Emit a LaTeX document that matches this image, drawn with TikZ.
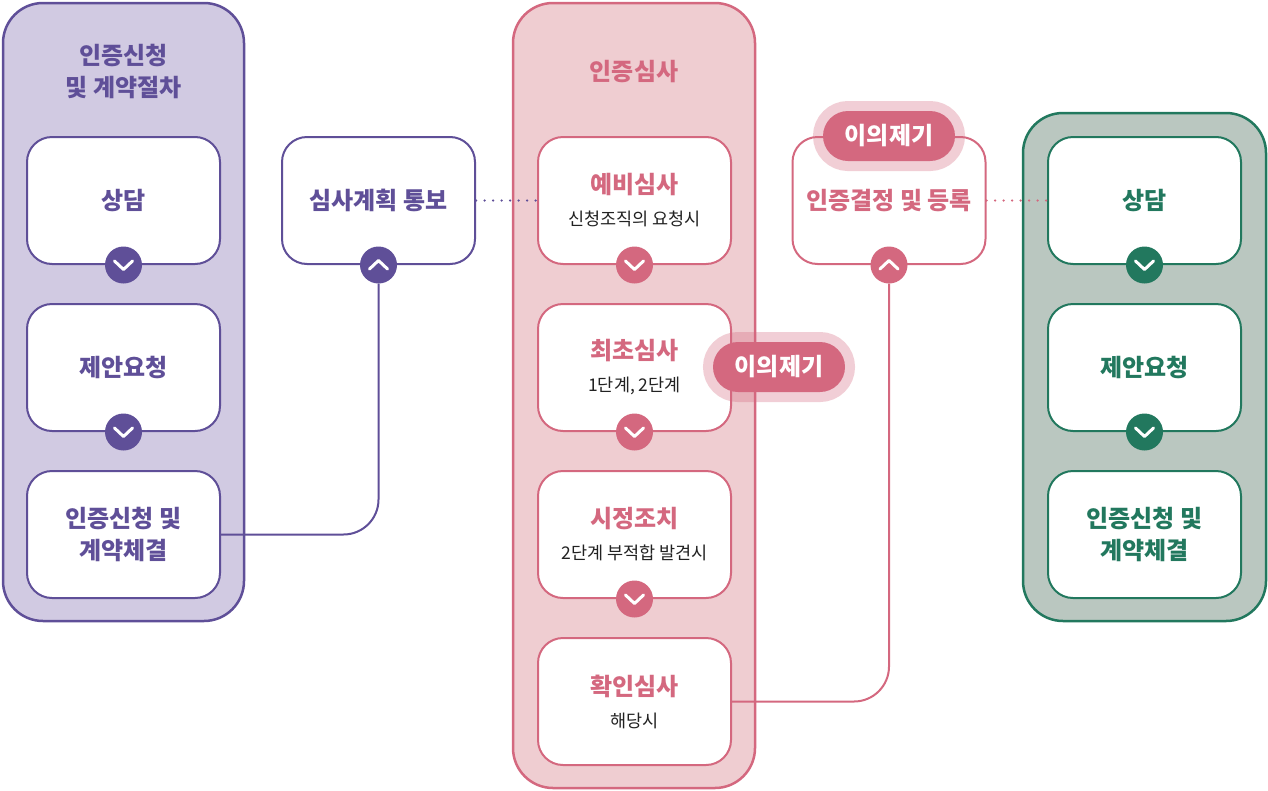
\documentclass[tikz,border=0pt]{standalone}
\usepackage{fontspec}
\setmainfont{Noto Sans CJK KR}
\usetikzlibrary{positioning}
\definecolor{purp}{HTML}{5F4F98}
\definecolor{purpbg}{HTML}{D1CAE2}
\definecolor{rosec}{HTML}{D4687F}
\definecolor{rosebg}{HTML}{EFCDD1}
\definecolor{grn}{HTML}{22785E}
\definecolor{grnbg}{HTML}{BAC7C0}
\definecolor{ink}{HTML}{222222}
\newcommand{\subt}[1]{{\mdseries\fontsize{17.5}{20}\selectfont\color{ink}#1}}
\begin{document}
\begin{tikzpicture}[x=1pt, y=-1pt,
    panel/.style={draw=#1, line width=2.5pt, rounded corners=40pt},
    ptitle/.style={text=#1, align=center, font=\bfseries\fontsize{24}{32}\selectfont},
    stepbox/.style={draw=#1, fill=white, line width=2pt, rounded corners=25pt,
      minimum width=193pt, minimum height=127pt, inner sep=0pt, align=center,
      text=#1, font=\bfseries\fontsize{24}{32}\selectfont},
    downbtn/.style={circle, fill=#1, minimum size=37pt, inner sep=0pt,
      path picture={\draw[white, line width=3pt, line cap=round, line join=round]
        ([shift={(-9pt,4pt)}]path picture bounding box.center)
        -- ([shift={(0pt,-4.5pt)}]path picture bounding box.center)
        -- ([shift={(9pt,4pt)}]path picture bounding box.center);}},
    upbtn/.style={circle, fill=#1, minimum size=37pt, inner sep=0pt,
      path picture={\draw[white, line width=3pt, line cap=round, line join=round]
        ([shift={(-9pt,-4pt)}]path picture bounding box.center)
        -- ([shift={(0pt,4.5pt)}]path picture bounding box.center)
        -- ([shift={(9pt,-4pt)}]path picture bounding box.center);}},
    link/.style={draw=#1, line width=2pt, rounded corners=35pt},
    dotline/.style={draw=#1, line width=2.5pt, line cap=round, dash pattern=on 0pt off 8.5pt},
    appeal/.style={fill=rosec, text=white, rounded corners=25pt, minimum width=132pt,
      minimum height=50pt, inner sep=0pt, font=\bfseries\fontsize{24}{26}\selectfont,
      preaction={draw=rosec, line width=20pt, draw opacity=0.32}}
  ]
  \useasboundingbox (0,0) rectangle (1268,790);
  % panels
  \draw[panel=purp, fill=purpbg] (3,3) rectangle (244,621);
  \draw[panel=rosec, fill=rosebg] (513,3) rectangle (755,788);
  \draw[panel=grn, fill=grnbg] (1023,113) rectangle (1266,621);
  \node[ptitle=purp] (ltitle) at (123.5,71) {인증신청\\및 계약절차};
  \node[ptitle=rosec] (mtitle) at (634,72) {인증심사};

  % left column
  \node[stepbox=purp] (consult) at (123.5,200.5) {상담};
  \node[stepbox=purp, below=38pt of consult] (proposal) {제안요청};
  \node[stepbox=purp, below=38pt of proposal] (contract) {인증신청 및\\계약체결};
  \node[stepbox=purp] (plan) at (378.5,200.5) {심사계획 통보};

  % middle column
  \node[stepbox=rosec] (prelim) at (634.5,200.5) {예비심사\\\subt{신청조직의 요청시}};
  \node[stepbox=rosec, below=38pt of prelim] (initial) {최초심사\\\subt{1단계, 2단계}};
  \node[stepbox=rosec, below=38pt of initial] (correct) {시정조치\\\subt{2단계 부적합 발견시}};
  \node[stepbox=rosec, below=38pt of correct] (confirm) {확인심사\\\subt{해당시}};
  \node[stepbox=rosec] (decision) at (889,200.5) {인증결정 및 등록};

  % right column
  \node[stepbox=grn] (gconsult) at (1144.5,200.5) {상담};
  \node[stepbox=grn, below=38pt of gconsult] (gproposal) {제안요청};
  \node[stepbox=grn, below=38pt of gproposal] (gcontract) {인증신청 및\\계약체결};

  % buttons
  \node[downbtn=purp] (b1) at (consult.south) {};
  \node[downbtn=purp] (b2) at (proposal.south) {};
  \node[upbtn=purp] (bplan) at (plan.south) {};
  \node[downbtn=rosec] (b3) at (prelim.south) {};
  \node[downbtn=rosec] (b4) at (initial.south) {};
  \node[downbtn=rosec] (b5) at (correct.south) {};
  \node[upbtn=rosec] (bdec) at (decision.south) {};
  \node[downbtn=grn] (b6) at (gconsult.south) {};
  \node[downbtn=grn] (b7) at (gproposal.south) {};

  % connectors
  \draw[link=purp] (bplan) |- (contract.east);
  \draw[link=rosec] (bdec) |- (confirm.east);
  \draw[dotline=purp] (plan.east) -- (prelim.west);
  \draw[dotline=rosec] (decision.east) -- (gconsult.west);

  % appeals
  \node[appeal] (appeal1) at (779,367) {이의제기};
  \node[appeal] (appeal2) at (889,136) {이의제기};
\end{tikzpicture}
\end{document}
